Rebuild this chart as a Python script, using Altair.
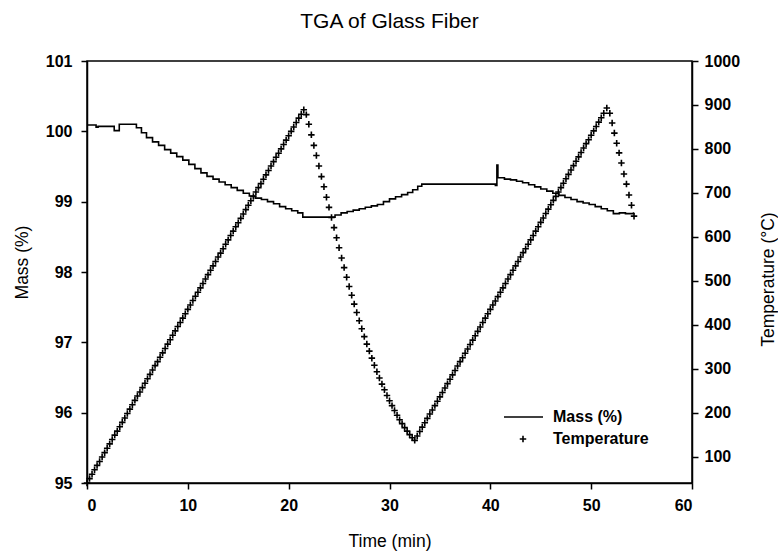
import altair as alt
import pandas as pd

# ---------------- data ----------------
x_ticks = [0, 10, 20, 30, 40, 50, 60]
mass_ticks = [95, 96, 97, 98, 99, 100, 101]
temp_ticks = [100, 200, 300, 400, 500, 600, 700, 800, 900, 1000]
series_names = ["Mass (%)", "Temperature"]

mass_time = [0, 0.9, 1.1, 1.4, 2.7, 3.2, 4.4, 4.9, 5.4, 5.9, 6.5, 7.1, 7.7, 8.3, 8.9,
             9.5, 10.1, 10.7, 11.3, 11.9, 12.5, 13.1, 13.7, 14.3, 14.9, 15.5, 16.1,
             16.7, 17.3, 17.9, 18.5, 19.1, 19.7, 20.3, 20.9, 21.4, 24.6, 25.2, 25.8,
             26.4, 27.0, 27.6, 28.2, 28.8, 29.4, 30.0, 30.6, 31.2, 31.8, 32.3, 32.8,
             33.2, 40.5, 40.65, 40.75, 41.4, 42.0, 42.6, 43.2, 43.8, 44.4, 45.0, 45.6,
             46.2, 46.8, 47.4, 48.0, 48.6, 49.2, 49.8, 50.4, 51.0, 51.6, 52.2, 52.8,
             53.4, 54.2]
mass_value = [100.09, 100.06, 100.07, 100.07, 100.01, 100.10, 100.10, 100.05, 99.98,
              99.91, 99.85, 99.80, 99.74, 99.69, 99.64, 99.59, 99.53, 99.47, 99.41,
              99.36, 99.32, 99.28, 99.24, 99.20, 99.16, 99.12, 99.08, 99.05, 99.03,
              99.00, 98.97, 98.93, 98.90, 98.87, 98.84, 98.78, 98.81, 98.84, 98.86,
              98.88, 98.90, 98.92, 98.94, 98.96, 99.00, 99.04, 99.07, 99.10, 99.13,
              99.17, 99.22, 99.25, 99.23, 99.52, 99.34, 99.32, 99.31, 99.29, 99.27,
              99.24, 99.21, 99.18, 99.15, 99.12, 99.09, 99.06, 99.03, 99.00, 98.98,
              98.96, 98.93, 98.90, 98.87, 98.83, 98.84, 98.83, 98.85]

heat1_time = [0, 0.25, 0.5, 0.75, 1, 1.25, 1.5, 1.75, 2, 2.25, 2.5, 2.75, 3, 3.25, 3.5,
              3.75, 4, 4.25, 4.5, 4.75, 5, 5.25, 5.5, 5.75, 6, 6.25, 6.5, 6.75, 7, 7.25,
              7.5, 7.75, 8, 8.25, 8.5, 8.75, 9, 9.25, 9.5, 9.75, 10, 10.25, 10.5, 10.75,
              11, 11.25, 11.5, 11.75, 12, 12.25, 12.5, 12.75, 13, 13.25, 13.5, 13.75, 14,
              14.25, 14.5, 14.75, 15, 15.25, 15.5, 15.75, 16, 16.25, 16.5, 16.75, 17,
              17.25, 17.5, 17.75, 18, 18.25, 18.5, 18.75, 19, 19.25, 19.5, 19.75, 20,
              20.25, 20.5, 20.75, 21, 21.25, 21.5]
heat1_temp = [40, 50, 60, 70, 80, 89, 99, 109, 119, 129,
              139, 149, 158, 168, 178, 188, 198, 208, 218, 228,
              238, 247, 257, 267, 277, 287, 297, 307, 316, 326,
              336, 346, 356, 366, 376, 386, 396, 405, 415, 425,
              435, 445, 455, 465, 474, 484, 494, 504, 514, 524,
              534, 544, 554, 563, 573, 583, 593, 603, 613, 623,
              632, 642, 652, 662, 672, 682, 692, 702, 712, 721,
              731, 741, 751, 761, 771, 781, 790, 800, 810, 820,
              830, 840, 850, 860, 870, 879, 889]

cool1_time = [21.75, 22, 22.25, 22.5, 22.75, 23, 23.25, 23.5, 23.75, 24, 24.25, 24.5,
              24.75, 25, 25.25, 25.5, 25.75, 26, 26.25, 26.5, 26.75, 27, 27.25, 27.5,
              27.75, 28, 28.25, 28.5, 28.75, 29, 29.25, 29.5, 29.75, 30, 30.25, 30.5,
              30.75, 31, 31.25, 31.5, 31.75, 32, 32.25]
cool1_temp = [878, 856, 832, 808, 785, 761, 737, 714, 690, 667, 644, 621,
              598, 575, 552, 530, 508, 487, 467, 447, 428, 409, 391, 373,
              356, 340, 324, 308, 293, 279, 265, 252, 239, 227, 216, 205,
              194, 184, 175, 166, 158, 150, 143]

heat2_time = [32.5, 32.75, 33, 33.25, 33.5, 33.75, 34, 34.25, 34.5, 34.75, 35, 35.25,
              35.5, 35.75, 36, 36.25, 36.5, 36.75, 37, 37.25, 37.5, 37.75, 38, 38.25,
              38.5, 38.75, 39, 39.25, 39.5, 39.75, 40, 40.25, 40.5, 40.75, 41, 41.25,
              41.5, 41.75, 42, 42.25, 42.5, 42.75, 43, 43.25, 43.5, 43.75, 44, 44.25,
              44.5, 44.75, 45, 45.25, 45.5, 45.75, 46, 46.25, 46.5, 46.75, 47, 47.25,
              47.5, 47.75, 48, 48.25, 48.5, 48.75, 49, 49.25, 49.5, 49.75, 50, 50.25,
              50.5, 50.75, 51, 51.25]
heat2_temp = [137, 147, 157, 167, 177, 187, 197, 206, 216, 226,
              236, 246, 256, 266, 276, 286, 296, 306, 316, 325,
              335, 345, 355, 365, 375, 385, 395, 405, 415, 425,
              435, 445, 454, 464, 474, 484, 494, 504, 514, 524,
              534, 544, 554, 564, 573, 583, 593, 603, 613, 623,
              633, 643, 653, 663, 673, 683, 692, 702, 712, 722,
              732, 742, 752, 762, 772, 782, 792, 802, 812, 821,
              831, 841, 851, 861, 871, 881]

cool2_time = [51.55, 51.85, 52.08, 52.3, 52.53, 52.77, 53.0, 53.25, 53.5, 53.75, 54.0, 54.25]
cool2_temp = [893, 881, 859, 836, 813, 791, 768, 743, 720, 695, 672, 647]

# ---------------- tables ----------------
mass_df = pd.DataFrame({"time": mass_time, "mass": mass_value})
temp_df = pd.DataFrame({
    "time": heat1_time + cool1_time + heat2_time + cool2_time,
    "temp": heat1_temp + cool1_temp + heat2_temp + cool2_temp,
})

FONT = "Liberation Sans"
PLUS = "M-1,0H1M0,-1V1"

x_enc = alt.X(
    "time:Q",
    scale=alt.Scale(domain=[0, 60], nice=False, zero=False),
    axis=alt.Axis(values=x_ticks, title="Time (min)", titleY=58,
                  titleBaseline="middle", labelPadding=8),
)

mass_line = alt.Chart(mass_df).mark_line(
    interpolate="step-after", color="black", strokeWidth=1.6
).encode(
    x=x_enc,
    y=alt.Y(
        "mass:Q",
        scale=alt.Scale(domain=[95, 101], nice=False, zero=False),
        axis=alt.Axis(values=mass_ticks, orient="left", title="Mass (%)",
                      titleAngle=270, titleX=-65, titleY=201,
                      titleBaseline="middle", labelPadding=9),
    ),
)

temp_pts = alt.Chart(temp_df).mark_point(
    shape=PLUS, filled=False, color="black", strokeWidth=1.6, size=42, opacity=1
).encode(
    x=x_enc,
    y=alt.Y(
        "temp:Q",
        scale=alt.Scale(domain=[40, 1000], nice=False, zero=False),
        axis=alt.Axis(values=temp_ticks, format="d", orient="right",
                      title="Temperature (°C)",
                      titleAngle=270, titleX=76, titleY=218,
                      titleBaseline="middle", labelPadding=6),
    ),
)

one = pd.DataFrame({"label": [series_names[0]]})
two = pd.DataFrame({"label": [series_names[1]]})

leg_line = alt.Chart(one).mark_rule(color="black", strokeWidth=1.6).encode(
    x=alt.value(417), x2=alt.value(456), y=alt.value(356)
)
leg_pt = alt.Chart(two).mark_point(
    shape=PLUS, filled=False, color="black", strokeWidth=1.6, size=42, opacity=1
).encode(x=alt.value(436), y=alt.value(378))
leg_txt1 = alt.Chart(one).mark_text(
    align="left", baseline="middle", font=FONT, fontSize=16, fontWeight="bold", color="black"
).encode(x=alt.value(466), y=alt.value(356), text="label:N")
leg_txt2 = alt.Chart(two).mark_text(
    align="left", baseline="middle", font=FONT, fontSize=16, fontWeight="bold", color="black"
).encode(x=alt.value(466), y=alt.value(378), text="label:N")

chart = alt.layer(
    mass_line, temp_pts, leg_line, leg_pt, leg_txt1, leg_txt2
).resolve_scale(
    y="independent"
).properties(
    width=605,
    height=422,
    title=alt.TitleParams(
        "TGA of Glass Fiber", font=FONT, fontSize=21, fontWeight="normal",
        color="black", anchor="middle", frame="group", baseline="alphabetic", offset=4
    ),
    autosize=alt.AutoSizeParams(type="none"),
    padding={"left": 87, "top": 61, "right": 86, "bottom": 73},
).configure_view(
    stroke="black", strokeWidth=1.5
).configure_axis(
    grid=False,
    domainColor="black", domainWidth=1.5,
    tickColor="black", tickWidth=1.5, tickSize=6,
    labelFont=FONT, labelFontSize=16, labelFontWeight="bold", labelColor="black",
    titleFont=FONT, titleFontSize=17.5, titleFontWeight="normal", titleColor="black",
)

chart.save("out.html", embed_options={"renderer": "svg", "actions": False})
